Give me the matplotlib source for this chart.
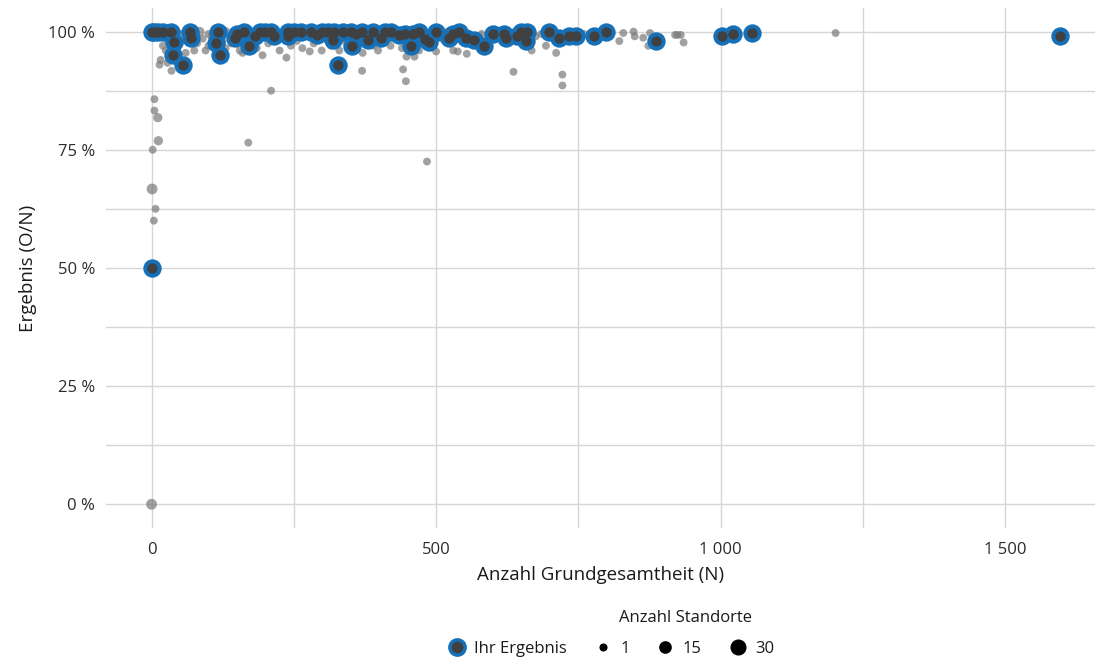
import numpy as np
import matplotlib
matplotlib.use('Agg')
import matplotlib.pyplot as plt
from matplotlib.lines import Line2D
from matplotlib.ticker import FuncFormatter, MultipleLocator

plt.rcParams['font.family'] = ['Open Sans', 'DejaVu Sans']

# alle Standorte (grau): N, Ergebnis in %, Anzahl Standorte
grey_n = [0, 1, 0, 2, 4, 7, 5, 5, 11, 12, 14, 16, 35, 170, 210, 370, 442, 447, 484, 636, 722, 722, 1202,
          20, 25, 30, 45, 50, 60, 75, 80, 90, 95, 100, 105, 125, 130, 140, 150, 155, 160, 175, 185, 195,
          205, 220, 225, 237, 245, 255, 265, 278, 285, 299, 305, 315, 330, 340, 345, 360, 371, 375, 390,
          398, 410, 420, 430, 440, 448, 462, 470, 478, 495, 500, 510, 530, 538, 545, 554, 560, 575, 590,
          600, 610, 630, 668, 675, 685, 693, 711, 760, 790, 822, 829, 847, 849, 864, 873, 876, 920, 924,
          930, 935, 28, 38, 32,
          10, 30, 50, 85, 100, 130, 170, 200, 230, 260, 300, 330, 365, 395, 430, 465, 490, 520, 550, 580,
          620, 655, 700, 740]
grey_pct = [0, 66.7, 50, 75, 60, 62.5, 85.7, 83.3, 81.8, 76.9, 93, 94, 91.7, 76.5, 87.5, 91.7, 92, 89.5,
            72.5, 91.5, 90.9, 88.6, 99.7,
            97, 96, 98, 96.5, 97.5, 95.5, 96, 97.5, 98.5, 96, 97, 99, 98, 96.5, 97.5, 99, 96, 95.5, 98,
            96.5, 95, 97.5, 98.5, 96, 94.5, 97, 98, 96.5, 95.8, 97.5, 96, 98.5, 97, 96, 98, 96.5, 97.5,
            95.5, 98.5, 97, 96, 98, 97, 98.5, 96.5, 94.7, 94.7, 96, 98, 97, 95.8, 98.5, 96, 95.8, 98,
            95.3, 97.5, 99, 98, 98.5, 99.5, 98, 96, 99, 99.5, 97, 95.5, 99.5, 99.5, 98, 99.7, 100, 99,
            98.7, 97, 99.7, 99.3, 99.3, 99.3, 97.7, 93.4, 96.6, 94.5,
            100, 100, 99.5, 100, 99.5, 100, 99.5, 100, 99.5, 100, 99.5, 100, 99.5, 100, 99.7, 100, 99.5,
            100, 99.7, 99.5, 99.7, 99.5, 99.8, 99.5]
grey_cnt = [8, 8, 8, 1, 1, 1, 1, 1, 4, 4, 1, 1, 1, 1, 1, 1, 1, 1, 1, 1, 1, 1, 1] + [1] * 83 + \
           [15, 8, 1, 4, 1, 4, 1, 4, 1, 4, 1, 4, 1, 4, 1, 4, 1, 1, 1, 1, 1, 1, 1, 1]

# Ihr Ergebnis (blau)
own_n = [0, 5, 12, 20, 35, 40, 37, 55, 70, 68, 116, 114, 120, 146, 163, 172, 181, 199, 216, 239, 263,
         290, 319, 336, 353, 380, 403, 327, 435, 456, 488, 523, 552, 566, 584, 623, 642, 658, 698, 716,
         733, 745, 777, 798, 886, 1002, 1021, 1056, 1596, 0,
         280, 300, 310, 350, 370, 390, 410, 420, 445, 470, 500, 540, 600, 650, 320, 250, 190, 210, 360,
         460, 480, 530, 620, 660, 150, 240]
own_pct = [100, 100, 100, 100, 100, 97.7, 95, 93, 98.7, 100, 100, 97.5, 95, 98.7, 100, 97, 99, 100, 99,
           99, 100, 99.3, 98.3, 100, 97, 98.3, 98.7, 93, 99.3, 97, 97.7, 98.7, 98.7, 98.3, 97, 98.7, 99,
           98, 100, 98.7, 99, 99, 99, 100, 98, 99, 99.5, 99.7, 99, 50,
           100, 100, 100, 100, 100, 100, 100, 100, 99.5, 100, 100, 100, 99.5, 100, 100, 100, 100, 100,
           99.5, 99.5, 98.5, 99.5, 99.5, 100, 99.5, 100]

legend_sizes = [1, 15, 30]


def area(cnt):
    return 28 + 4.2 * np.asarray(cnt, dtype=float)


fig = plt.figure(figsize=(11.01, 6.64), dpi=100)
ax = fig.add_axes([0.0963, 0.205, 0.8983, 0.783])

ax.scatter(grey_n, grey_pct, s=area(grey_cnt), color='#7a7a7a', alpha=0.7, linewidths=0, zorder=3)
ax.scatter(own_n, own_pct, s=175, color='#1570b8', linewidths=0, zorder=4)
ax.scatter(own_n, own_pct, s=55, color='#404040', linewidths=0, zorder=5)

ax.set_xlim(-80, 1658)
ax.set_ylim(-5, 105)
ax.xaxis.set_major_locator(MultipleLocator(500))
ax.xaxis.set_minor_locator(MultipleLocator(250))
ax.yaxis.set_major_locator(MultipleLocator(25))
ax.yaxis.set_minor_locator(MultipleLocator(12.5))
ax.xaxis.set_major_formatter(FuncFormatter(lambda v, p: f'{int(v):,}'.replace(',', ' ')))
ax.yaxis.set_major_formatter(FuncFormatter(lambda v, p: f'{int(v)} %'))
ax.grid(which='both', color='#d6d6d6', linewidth=1.0, zorder=0)
ax.set_axisbelow(True)
for s in ax.spines.values():
    s.set_visible(False)
ax.tick_params(which='both', length=0, labelsize=12, colors='#2b2b2b', pad=8)
ax.tick_params(axis='x', pad=10)

ax.set_xlabel('Anzahl Grundgesamtheit (N)', fontsize=13.5, color='#1a1a1a', labelpad=6)
ax.set_ylabel('Ergebnis (O/N)', fontsize=13.5, color='#1a1a1a', labelpad=8)

handles = [Line2D([], [], marker='o', linestyle='', markersize=11, markerfacecolor='#404040',
                  markeredgecolor='#1570b8', markeredgewidth=2.5, label='Ihr Ergebnis')]
for v in legend_sizes:
    handles.append(Line2D([], [], marker='o', linestyle='', color='black',
                          markersize=np.sqrt(area(v)) * 0.85, label=str(v)))
leg = fig.legend(handles=handles, loc='center', bbox_to_anchor=(0.554, 0.023), ncol=4, frameon=False,
                 fontsize=12, handletextpad=0.4, columnspacing=1.5, handlelength=1.3,
                 borderaxespad=0)
for t in leg.get_texts():
    t.set_color('#1a1a1a')
fig.text(0.623, 0.07, 'Anzahl Standorte', ha='center', va='center', fontsize=12, color='#1a1a1a')

fig.savefig('out.png', dpi=100)
